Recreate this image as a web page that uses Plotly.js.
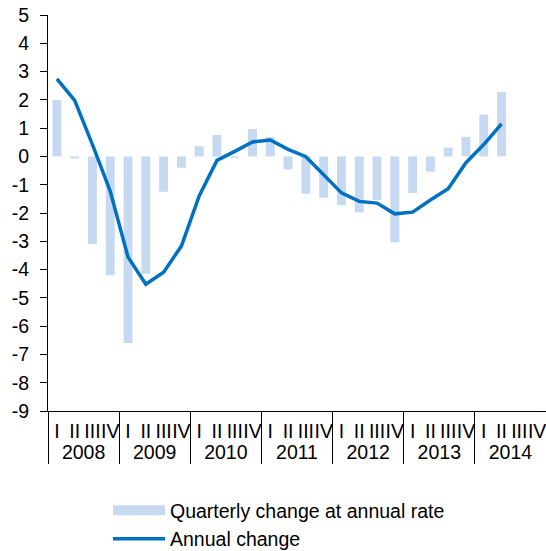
<!DOCTYPE html>
<html>
<head>
<meta charset="utf-8">
<script src="https://cdn.plot.ly/plotly-3.0.1.min.js"></script>
<style>html,body{margin:0;padding:0;background:#fff;}#chart{width:546px;height:551px;}</style>
</head>
<body>
<div id="chart"></div>
<script>
var years = ['2008','2009','2010','2011','2012','2013','2014'];
var quarters = ['I','II','III','IV'];
var quarterlyChange = [2.0, -0.07, -3.1, -4.2,  -6.6, -4.15, -1.25, -0.4,  0.36, 0.76, -0.05, 0.97,
                       0.69, -0.46, -1.32, -1.46,  -1.72, -1.98, -1.54, -3.03,  -1.29, -0.54, 0.31, 0.69,
                       1.48, 2.28, null, null];
var annualChange = [2.74, 1.98, 0.42, -1.23,  -3.56, -4.52, -4.09, -3.17,  -1.40, -0.14, 0.18, 0.51,
                    0.58, 0.25, -0.01, -0.64,  -1.29, -1.59, -1.65, -2.03,  -1.97, -1.54, -1.14, -0.22,
                    0.42, 1.15, null, null];
var yTickVals = [-9,-8,-7,-6,-5,-4,-3,-2,-1,0,1,2,3,4,5];
var yTickLabels = ['-9','-8','-7','-6','-5','-4','-3','-2','-1','0','1','2','3','4','5'];

var xYears = [], xQuarters = [];
years.forEach(function(y){ quarters.forEach(function(q){ xYears.push(y); xQuarters.push(q); }); });

var font = 'Liberation Sans, Arial, sans-serif';
var fs = 19.5;
var traces = [
  {type:'bar', x:[xYears, xQuarters], y:quarterlyChange, marker:{color:'#C6D9F1'}, showlegend:false, hoverinfo:'skip'},
  {type:'scatter', mode:'lines', x:[[null],[null]], y:[null], name:'Quarterly change at annual rate', line:{color:'#C6D9F1', width:11}, showlegend:true},
  {type:'scatter', mode:'lines', x:[xYears, xQuarters], y:annualChange, name:'Annual change', line:{color:'#0070C0', width:3.5}, connectgaps:false}
];
var layout = {
  width:546, height:551,
  margin:{l:48, r:0, t:15, b:140, autoexpand:false},
  paper_bgcolor:'#fff', plot_bgcolor:'#fff',
  font:{family:font, size:fs, color:'#000'},
  bargap:0.5,
  showlegend:true,
  legend:{orientation:'v', x:0.1205, xanchor:'left', y:-0.2025, yanchor:'top', itemwidth:52, font:{size:fs, family:font}, bgcolor:'rgba(0,0,0,0)', traceorder:'normal'},
  xaxis:{type:'multicategory', showline:true, linecolor:'#000', linewidth:1, ticks:'', tickangle:0, dtick:1, tick0:0, automargin:false,
         showdividers:true, dividercolor:'#000', dividerwidth:1, tickfont:{size:fs, family:font}, showgrid:false, ticklabelstandoff:3},
  yaxis:{range:[-9,5], tickmode:'array', tickvals:yTickVals, ticktext:yTickLabels, showline:true, linecolor:'#000', linewidth:1, ticks:'outside', ticklen:7, tickcolor:'#000', automargin:false,
         showgrid:false, zeroline:false, tickfont:{size:fs, family:font}, ticklabelstandoff:7}
};
Plotly.newPlot('chart', traces, layout, {staticPlot:true});
</script>
</body>
</html>
